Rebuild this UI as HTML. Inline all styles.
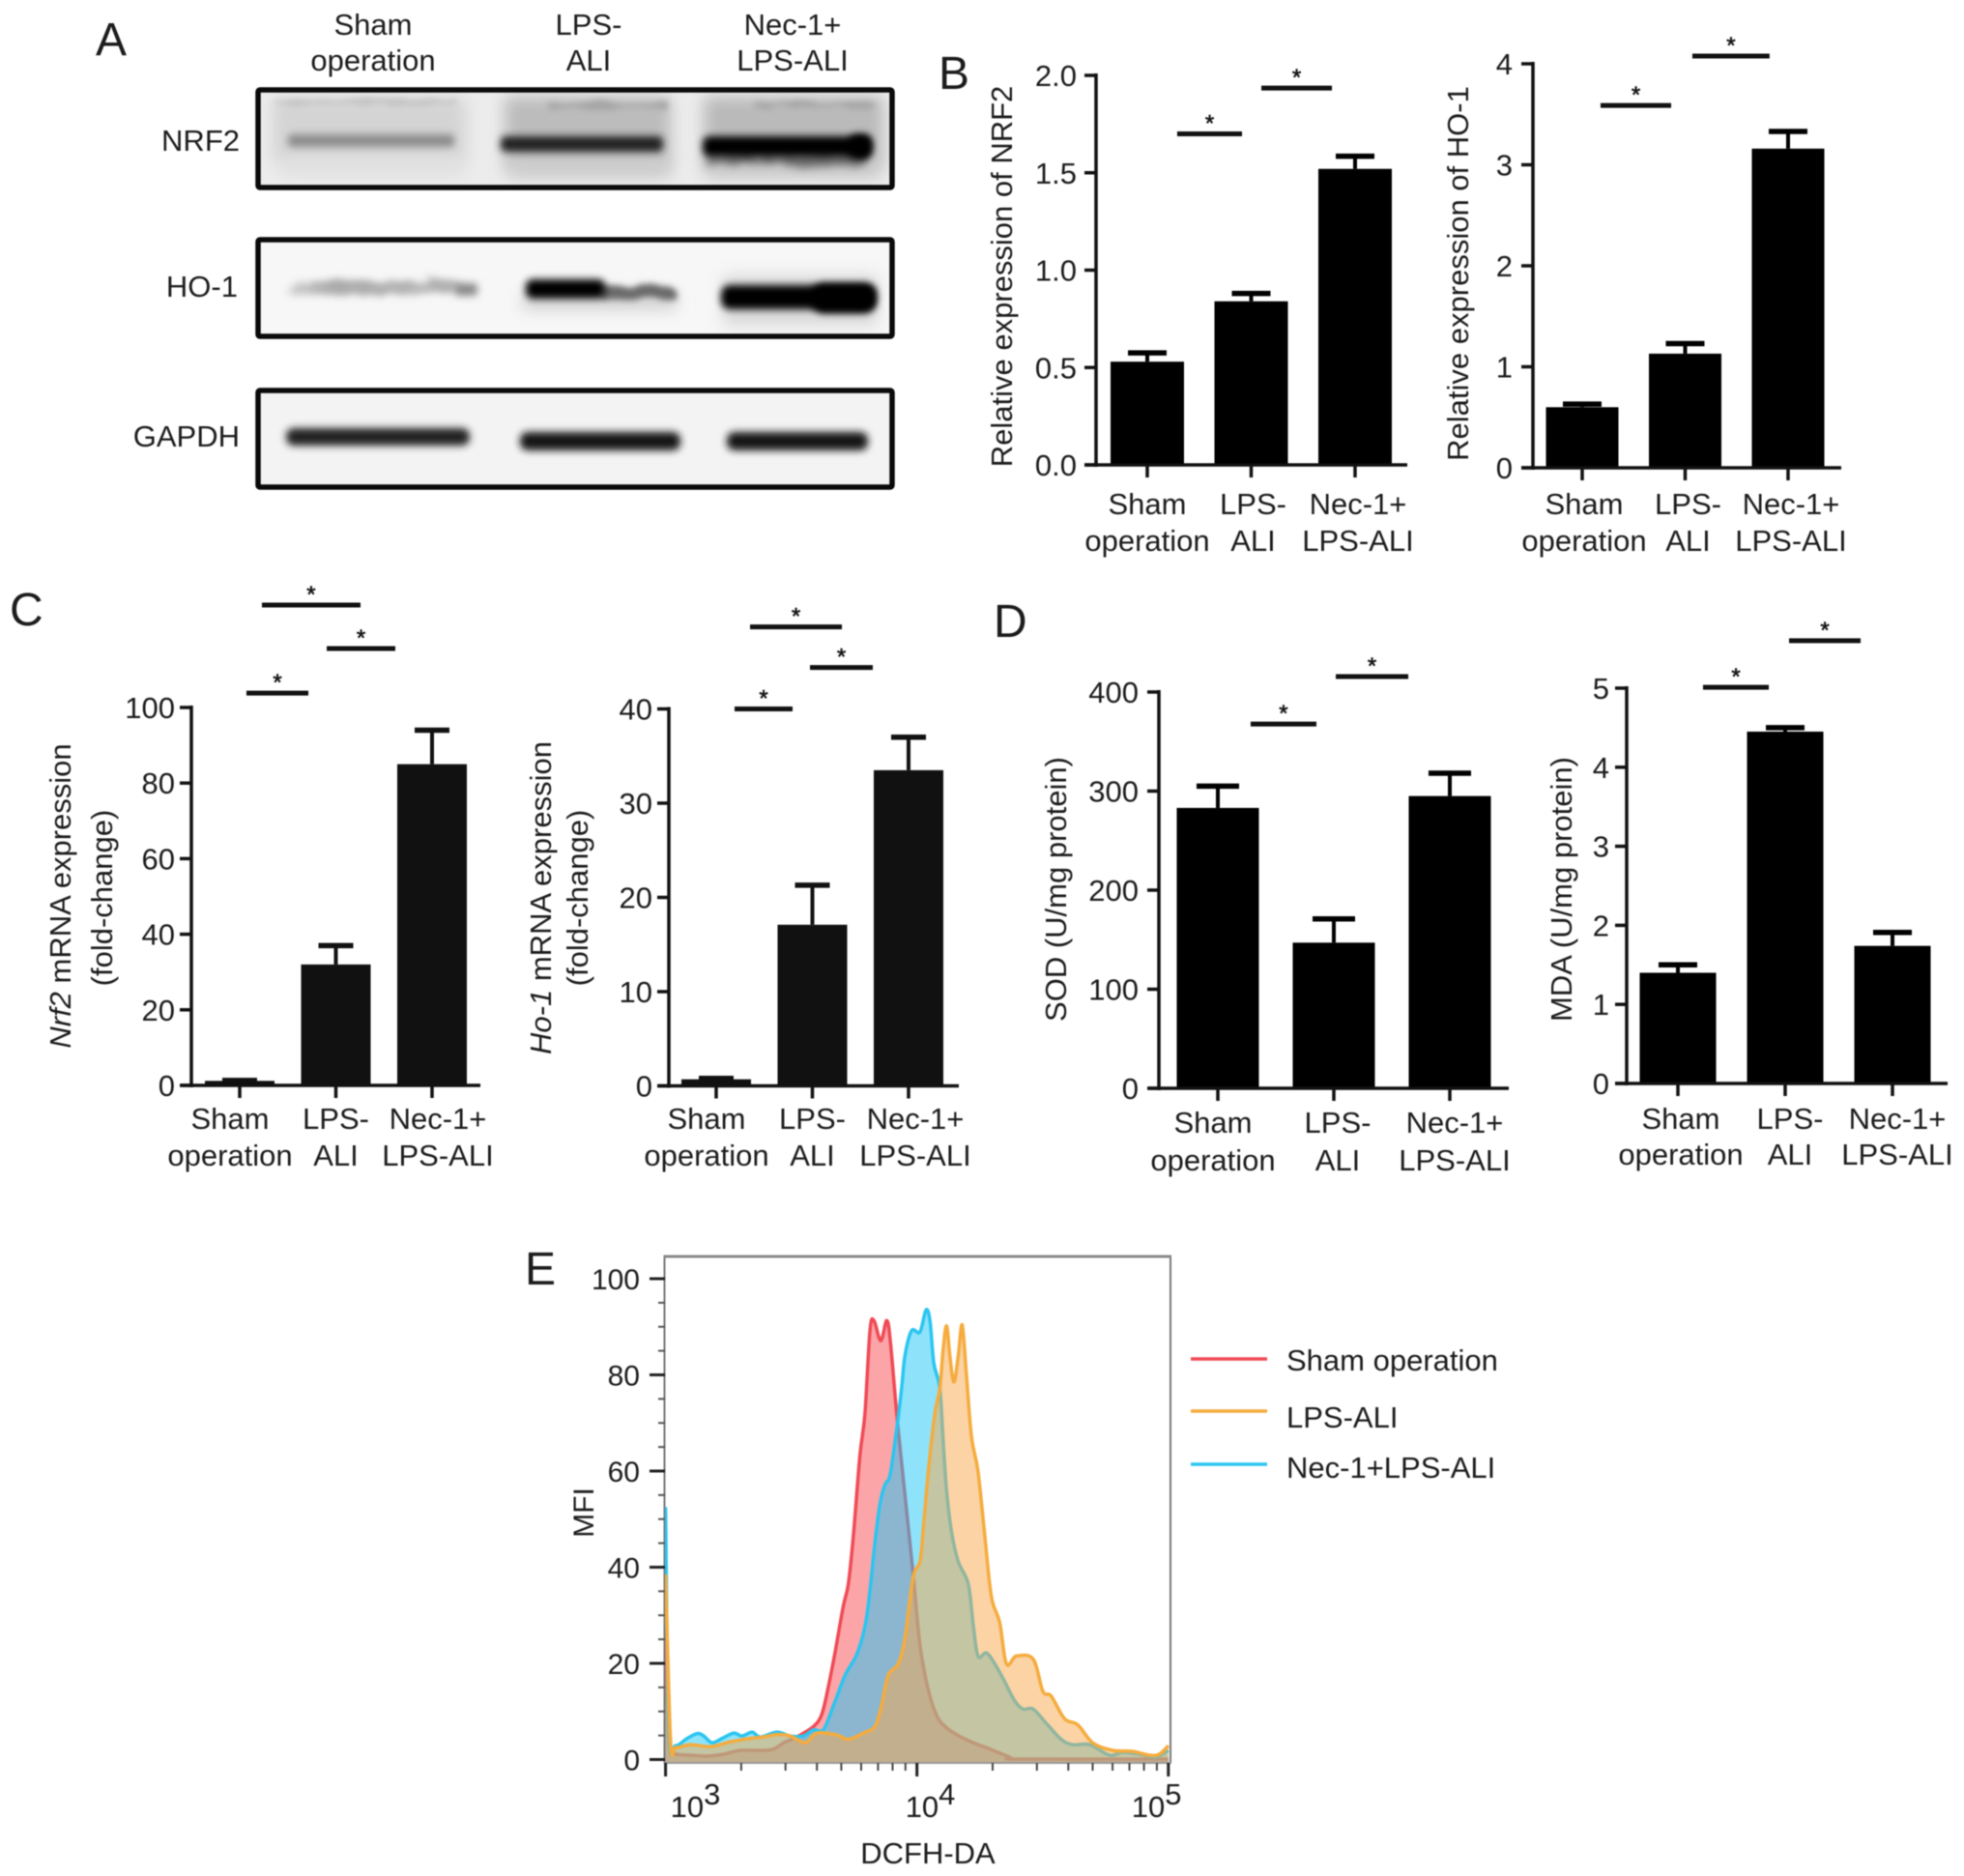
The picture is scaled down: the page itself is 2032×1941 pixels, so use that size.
<!DOCTYPE html>
<html lang="en">
<head>
<meta charset="utf-8">
<title>Western blot, mRNA, SOD/MDA and flow cytometry figure</title>
<style>
html,body{margin:0;padding:0;background:#fff;}
svg{display:block;font-family:"Liberation Sans",Arial,sans-serif;filter:blur(0.6px);}
text{fill:#1c1c1c;}
</style>
</head>
<body>
<svg id="figure" xmlns="http://www.w3.org/2000/svg" width="2032" height="1941" viewBox="0 0 2032 1941">
<defs>
<filter id="b8" x="-30%" y="-100%" width="160%" height="300%"><feGaussianBlur stdDeviation="8"/></filter>
<filter id="b3" x="-30%" y="-150%" width="160%" height="400%"><feGaussianBlur stdDeviation="4"/></filter>
<filter id="m3" x="-20%" y="-200%" width="140%" height="500%">
  <feTurbulence type="fractalNoise" baseFrequency="0.035 0.09" numOctaves="2" seed="4" result="n"/>
  <feDisplacementMap in="SourceGraphic" in2="n" scale="11" xChannelSelector="R" yChannelSelector="G"/>
  <feGaussianBlur stdDeviation="3.2"/>
</filter>
<filter id="m5" x="-20%" y="-200%" width="140%" height="500%">
  <feTurbulence type="fractalNoise" baseFrequency="0.05 0.12" numOctaves="2" seed="9" result="n"/>
  <feDisplacementMap in="SourceGraphic" in2="n" scale="16" xChannelSelector="R" yChannelSelector="G"/>
  <feGaussianBlur stdDeviation="4.5"/>
</filter>
<clipPath id="clip1"><rect x="267" y="93" width="656" height="101"/></clipPath>
<clipPath id="clip2"><rect x="267" y="248" width="656" height="100"/></clipPath>
<clipPath id="clip3"><rect x="267" y="404" width="656" height="100"/></clipPath>
<clipPath id="clipE"><rect x="688" y="1300" width="523" height="524"/></clipPath>
</defs>
<rect x="0" y="0" width="2032" height="1941" fill="#fff"/>

<g font-size="48">
<text x="99" y="57">A</text>
<text x="971" y="92">B</text>
<text x="10" y="647">C</text>
<text x="1028" y="659">D</text>
<text x="543" y="1329">E</text>
</g>

<g font-size="31" text-anchor="middle">
<text x="386" y="36">Sham</text>
<text x="386" y="73">operation</text>
<text x="609" y="36">LPS-</text>
<text x="609" y="73">ALI</text>
<text x="820" y="36">Nec-1+</text>
<text x="820" y="73">LPS-ALI</text>
</g>
<g font-size="31" text-anchor="end">
<text x="248" y="156">NRF2</text>
<text x="246" y="307">HO-1</text>
<text x="248" y="462">GAPDH</text>
</g>

<g>
<g clip-path="url(#clip1)">
<rect x="267" y="93" width="656" height="101" fill="#ececec"/>
<rect x="282" y="102" width="200" height="66" fill="#d4d4d4" filter="url(#b8)"/>
<rect x="522" y="100" width="172" height="74" fill="#bcbcbc" filter="url(#b8)"/>
<rect x="728" y="100" width="186" height="74" fill="#bababa" filter="url(#b8)"/>
<rect x="290" y="164" width="190" height="18" fill="#e0e0e0" filter="url(#b8)"/>
<rect x="525" y="164" width="168" height="20" fill="#cdcdcd" filter="url(#b8)"/>
<rect x="730" y="164" width="180" height="20" fill="#cbcbcb" filter="url(#b8)"/>
<rect x="285" y="104" width="190" height="5" fill="#c2c2c2" filter="url(#m3)"/>
<rect x="565" y="106" width="125" height="6" fill="#a4a4a4" filter="url(#m3)"/>
<rect x="780" y="106" width="125" height="5" fill="#a4a4a4" filter="url(#m3)"/>
<rect x="298" y="139" width="172" height="13" rx="4" fill="#8c8c8c" filter="url(#b3)"/>
<rect x="518" y="141" width="168" height="16" rx="5" fill="#222" filter="url(#b3)"/>
<rect x="732" y="158" width="165" height="13" fill="#666" filter="url(#m5)"/>
<rect x="727" y="141" width="174" height="21" rx="7" fill="#000" filter="url(#b3)"/>
<rect x="878" y="139" width="24" height="25" rx="9" fill="#000" filter="url(#b3)"/>
</g>
<rect x="267" y="93" width="656" height="101" rx="2" fill="none" stroke="#0a0a0a" stroke-width="5.5"/>
</g>

<g>
<g clip-path="url(#clip2)">
<rect x="267" y="248" width="656" height="100" fill="#f7f7f7"/>
<rect x="300" y="293" width="170" height="11" rx="4" fill="#bdbdbd" filter="url(#m5)"/>
<rect x="320" y="292" width="150" height="10" fill="#a8a8a8" filter="url(#m5)"/>
<rect x="470" y="293" width="24" height="13" rx="4" fill="#8a8a8a" filter="url(#b3)"/>
<rect x="540" y="304" width="160" height="16" fill="#cfcfcf" filter="url(#b8)"/>
<rect x="620" y="297" width="78" height="13" rx="4" fill="#6a6a6a" filter="url(#m3)"/>
<rect x="544" y="289" width="82" height="20" rx="7" fill="#000" filter="url(#b3)"/>
<rect x="748" y="285" width="160" height="52" fill="#c4c4c4" opacity=".6" filter="url(#b8)"/>
<rect x="746" y="295" width="160" height="25" rx="9" fill="#000" filter="url(#b3)"/>
<rect x="840" y="293" width="66" height="31" rx="12" fill="#000" filter="url(#b3)"/>
</g>
<rect x="267" y="248" width="656" height="100" rx="2" fill="none" stroke="#0a0a0a" stroke-width="5.5"/>
</g>

<g>
<g clip-path="url(#clip3)">
<rect x="267" y="404" width="656" height="100" fill="#f3f3f3"/>
<rect x="296" y="443" width="190" height="18" rx="8" fill="#242424" filter="url(#b3)"/>
<rect x="538" y="447" width="166" height="19" rx="8" fill="#121212" filter="url(#b3)"/>
<rect x="752" y="447" width="146" height="19" rx="8" fill="#121212" filter="url(#b3)"/>
</g>
<rect x="267" y="404" width="656" height="100" rx="2" fill="none" stroke="#0a0a0a" stroke-width="5.5"/>
</g>

<g font-size="31" text-anchor="middle">
<text transform="translate(1047,286) rotate(-90)">Relative expression of NRF2</text>
<text transform="translate(1519,283) rotate(-90)">Relative expression of HO-1</text>
<text transform="translate(73,927) rotate(-90)"><tspan font-style="italic">Nrf2</tspan> mRNA expression</text>
<text transform="translate(116,929) rotate(-90)">(fold-change)</text>
<text transform="translate(570,929) rotate(-90)"><tspan font-style="italic">Ho-1</tspan> mRNA expression</text>
<text transform="translate(608,929) rotate(-90)">(fold-change)</text>
<text transform="translate(1103,920) rotate(-90)">SOD (U/mg protein)</text>
<text transform="translate(1626,920) rotate(-90)">MDA (U/mg protein)</text>
<text transform="translate(614,1565) rotate(-90)" font-size="30">MFI</text>
<text x="960" y="1928">DCFH-DA</text>
</g>

<g id="bar-charts"></g>
<g id="flow-chart"></g>

<g font-size="31">
<line x1="1232" x2="1311" y1="1406" y2="1406" stroke="#f04a55" stroke-width="3.5"/>
<text x="1331" y="1418">Sham operation</text>
<line x1="1232" x2="1311" y1="1460" y2="1460" stroke="#f5ac3e" stroke-width="3.5"/>
<text x="1331" y="1477">LPS-ALI</text>
<line x1="1232" x2="1311" y1="1515" y2="1515" stroke="#2bc5f0" stroke-width="3.5"/>
<text x="1331" y="1529">Nec-1+LPS-ALI</text>
</g>
</svg>

<script>
// ---------- bar chart data ----------
const categoryLines = [["Sham", "operation"], ["LPS-", "ALI"], ["Nec-1+", "LPS-ALI"]];

const nrf2ProteinValues = [0.53, 0.84, 1.52];
const nrf2ProteinErrors = [0.575, 0.88, 1.585];
const nrf2ProteinTicks = [0, 0.5, 1, 1.5, 2];
const nrf2ProteinTickLabels = ["0.0", "0.5", "1.0", "1.5", "2.0"];
const nrf2ProteinSig = [[0.288, 0.912, 1.70], [1.098, 1.777, 1.935]];

const ho1ProteinValues = [0.6, 1.13, 3.16];
const ho1ProteinErrors = [0.63, 1.23, 3.33];
const ho1ProteinTicks = [0, 1, 2, 3, 4];
const ho1ProteinTickLabels = ["0", "1", "2", "3", "4"];
const ho1ProteinSig = [[0.178, 0.864, 3.587], [1.07, 1.82, 4.077]];

const nrf2MrnaValues = [1.2, 32, 85];
const nrf2MrnaErrors = [1.3, 37, 94];
const nrf2MrnaTicks = [0, 20, 40, 60, 80, 100];
const nrf2MrnaTickLabels = ["0", "20", "40", "60", "80", "100"];
const nrf2MrnaSig = [[0.231, 1.256, 127.1], [0.905, 1.618, 115.6], [0.07, 0.714, 103.8]];

const ho1MrnaValues = [0.7, 17.1, 33.5];
const ho1MrnaErrors = [0.8, 21.3, 37];
const ho1MrnaTicks = [0, 10, 20, 30, 40];
const ho1MrnaTickLabels = ["0", "10", "20", "30", "40"];
const ho1MrnaSig = [[0.352, 1.307, 48.7], [0.975, 1.628, 44.4], [0.191, 0.794, 40]];

const sodValues = [283, 147, 295];
const sodErrors = [305, 171, 318];
const sodTicks = [0, 100, 200, 300, 400];
const sodTickLabels = ["0", "100", "200", "300", "400"];
const sodSig = [[0.283, 0.85, 367.7], [1.017, 1.642, 415.6]];

const mdaValues = [1.4, 4.45, 1.74];
const mdaErrors = [1.5, 4.5, 1.91];
const mdaTicks = [0, 1, 2, 3, 4, 5];
const mdaTickLabels = ["0", "1", "2", "3", "4", "5"];
const mdaSig = [[0.234, 0.847, 5.01], [1.036, 1.703, 5.6]];

// ---------- flow cytometry data (log10 intensity, percent of max) ----------
const shamLog = [3.000,3.013,3.033,3.099,3.165,3.231,3.298,3.417,3.470,3.522,3.589,3.622,3.648,3.675,3.707,3.727,3.747,3.773,3.793,3.813,3.829,3.856,3.880,3.895,3.922,3.952,3.985,4.012,4.045,4.078,4.111,4.157,4.224,4.290,4.369,4.409,5.000];
const shamMfi = [25,3.9,1.3,0.9,0.7,1.1,1.9,2.0,3.5,4.7,6.9,9.5,15.2,22.5,31.9,36.5,46.5,63.2,71.9,89.2,91.3,87.1,91.3,86.5,70.5,55.2,38.5,23.9,14.5,9.2,6.9,5.2,3.5,2.2,0.5,0.1,0.1];

const necLog = [3.000,3.013,3.040,3.086,3.126,3.152,3.185,3.225,3.271,3.304,3.344,3.377,3.443,3.496,3.549,3.589,3.628,3.668,3.714,3.761,3.794,3.813,3.833,3.853,3.873,3.893,3.919,3.939,3.952,3.979,4.012,4.036,4.052,4.067,4.091,4.104,4.118,4.138,4.164,4.204,4.224,4.243,4.276,4.310,4.349,4.389,4.422,4.462,4.515,4.574,4.620,4.687,4.766,4.819,4.885,4.951,5.000];
const necMfi = [52.5,5.2,2.9,4.4,5.4,4.9,3.5,4.4,5.5,4.9,5.7,4.7,5.7,4.9,4.9,6.2,6.2,11.2,17.5,21.9,27.9,35.2,45.2,53.2,57.2,59.2,68.5,77.2,83.9,89.2,88.9,93.5,91.2,82.5,77.2,66.5,55.9,47.2,41.2,36.5,27.9,21.5,22.2,19.9,16.2,12.2,10.5,10.5,7.5,4.2,3.1,3.1,0.9,1.5,1.1,0.5,1.9];

const lpsLog = [3.000,3.020,3.040,3.099,3.179,3.258,3.337,3.390,3.443,3.496,3.556,3.602,3.681,3.727,3.787,3.833,3.859,3.886,3.925,3.952,3.985,4.012,4.025,4.045,4.071,4.091,4.104,4.118,4.131,4.147,4.164,4.180,4.197,4.217,4.243,4.270,4.296,4.329,4.356,4.395,4.462,4.501,4.534,4.587,4.640,4.699,4.779,4.858,4.924,4.964,5.000];
const lpsMfi = [38.5,3.9,2.5,3.1,2.7,3.7,4.4,4.7,5.2,4.9,3.5,5.5,5.1,4.2,5.5,6.9,11.2,17.5,19.9,25.2,37.9,41.2,47.9,59.9,71.9,77.2,85.2,90.2,83.9,78.5,83.9,90.4,79.9,67.2,59.9,46.5,33.9,28.5,19.9,21.5,20.9,14.2,13.2,8.5,7.2,3.5,1.9,1.7,0.9,1.1,2.9];

const mfiTicks = [0, 20, 40, 60, 80, 100];
const mfiTickLabels = ["0", "20", "40", "60", "80", "100"];
const mfiMinorTicks = [5, 10, 15, 25, 30, 35, 45, 50, 55, 65, 70, 75, 85, 90, 95];
const decadeExponents = [3, 4, 5];
const minorMultipliers = [2, 3, 4, 5, 6, 7, 8, 9];

// ---------- helpers ----------
const NS = "http://www.w3.org/2000/svg";
function make(parent, tag, props) {
  const node = document.createElementNS(NS, tag);
  for (const k in props) node.setAttribute(k, props[k]);
  parent.appendChild(node);
  return node;
}

// layout of each chart: frame geometry only, the marks come from the arrays
const barCharts = [
  {id:"nrf2-protein", values:nrf2ProteinValues, errors:nrf2ProteinErrors, ticks:nrf2ProteinTicks, labels:nrf2ProteinTickLabels, sig:nrf2ProteinSig,
   max:2, y0:481, yTop:78, axisX:1134, xL:1122, xR:1456, x0:1187, step:107.5, half:38, cap:20, fill:"#000", labelRight:1114, labelDx:[0,2,3], rowY:[532,570]},
  {id:"ho1-protein", values:ho1ProteinValues, errors:ho1ProteinErrors, ticks:ho1ProteinTicks, labels:ho1ProteinTickLabels, sig:ho1ProteinSig,
   max:4, y0:484, yTop:66, axisX:1586, xL:1574, xR:1905, x0:1637, step:106.5, half:37.5, cap:20, fill:"#000", labelRight:1565, labelDx:[2,3,3], rowY:[532,570]},
  {id:"nrf2-mrna", values:nrf2MrnaValues, errors:nrf2MrnaErrors, ticks:nrf2MrnaTicks, labels:nrf2MrnaTickLabels, sig:nrf2MrnaSig,
   max:100, y0:1123, yTop:732, axisX:198, xL:187, xR:497, x0:248, step:99.5, half:36, cap:18, fill:"#111", labelRight:181, labelDx:[-10,0,6], rowY:[1168,1206]},
  {id:"ho1-mrna", values:ho1MrnaValues, errors:ho1MrnaErrors, ticks:ho1MrnaTicks, labels:ho1MrnaTickLabels, sig:ho1MrnaSig,
   max:40, y0:1123.5, yTop:733.5, axisX:692, xL:681, xR:992, x0:741, step:99.5, half:36, cap:18, fill:"#111", labelRight:675, labelDx:[-10,0,7], rowY:[1168,1206]},
  {id:"sod", values:sodValues, errors:sodErrors, ticks:sodTicks, labels:sodTickLabels, sig:sodSig,
   max:400, y0:1126, yTop:716, axisX:1199, xL:1188, xR:1561, x0:1260, step:120, half:42.5, cap:22, fill:"#000", labelRight:1178, labelDx:[-5,4,5], rowY:[1172,1211]},
  {id:"mda", values:mdaValues, errors:mdaErrors, ticks:mdaTicks, labels:mdaTickLabels, sig:mdaSig,
   max:5, y0:1121, yTop:712, axisX:1683, xL:1671, xR:2015, x0:1736, step:111, half:39.5, cap:20, fill:"#000", labelRight:1665, labelDx:[3,5,5], rowY:[1168,1205]}
];

function drawBarChart(cfg, root) {
  const yScale = v => cfg.y0 - (v / cfg.max) * (cfg.y0 - cfg.yTop);
  const xScale = c => cfg.x0 + c * cfg.step;
  const g = make(root, "g", {});
  
  

  cfg.values.forEach((v, i) => {
    const bar = make(g, "rect", {x:xScale(i)-cfg.half, y:yScale(v), width:cfg.half*2, height:cfg.y0-yScale(v), fill:cfg.fill});
    
    
    const stem = make(g, "line", {x1:xScale(i), x2:xScale(i), y1:yScale(v), y2:yScale(cfg.errors[i]), stroke:cfg.fill, "stroke-width":4});
    
    
    const cap = make(g, "line", {x1:xScale(i)-cfg.cap, x2:xScale(i)+cfg.cap, y1:yScale(cfg.errors[i]), y2:yScale(cfg.errors[i]), stroke:cfg.fill, "stroke-width":5.5});
    
    
  });

  const yAxis = make(g, "line", {x1:cfg.axisX, x2:cfg.axisX, y1:yScale(cfg.max)-2, y2:cfg.y0+2, stroke:"#111", "stroke-width":3.5});
  
  
  const xAxis = make(g, "line", {x1:cfg.xL, x2:cfg.xR, y1:cfg.y0, y2:cfg.y0, stroke:"#111", "stroke-width":3.5});
  
  

  cfg.ticks.forEach((t, i) => {
    const tick = make(g, "line", {x1:cfg.axisX-12, x2:cfg.axisX, y1:yScale(t), y2:yScale(t), stroke:"#111", "stroke-width":3.5});
    
    
    const label = make(g, "text", {x:cfg.labelRight, y:yScale(t)+11, "text-anchor":"end", "font-size":31});
    label.textContent = cfg.labels[i];
    
    
  });

  categoryLines.forEach((lines, i) => {
    const tick = make(g, "line", {x1:xScale(i), x2:xScale(i), y1:cfg.y0, y2:cfg.y0+13, stroke:"#111", "stroke-width":3.5});
    
    
    lines.forEach((line, j) => {
      const label = make(g, "text", {x:xScale(i)+cfg.labelDx[i], y:cfg.rowY[j], "text-anchor":"middle", "font-size":31});
      label.textContent = line;
      
      
    });
  });

  cfg.sig.forEach((s, i) => {
    const sigLine = make(g, "line", {x1:xScale(s[0]), x2:xScale(s[1]), y1:yScale(s[2]), y2:yScale(s[2]), stroke:"#111", "stroke-width":5});
    
    
    const star = make(g, "text", {x:(xScale(s[0])+xScale(s[1]))/2, y:yScale(s[2])-3, "text-anchor":"middle", "font-size":24, stroke:"#111", "stroke-width":0.6});
    star.textContent = "*";
    
    
  });
}

const barRoot = document.getElementById("bar-charts");
barCharts.forEach(cfg => drawBarChart(cfg, barRoot));

// ---------- flow histogram ----------
const flowX = lg => 688.6 + (lg - 3) * 260.1;
const flowY = v => 1820.5 - v * 4.975;
const flowRoot = document.getElementById("flow-chart");

// smooth curve through the data points
function smoothPath(xs, ys) {
  let d = "M" + xs[0].toFixed(1) + " " + ys[0].toFixed(1);
  for (let i = 0; i < xs.length - 1; i++) {
    const a = Math.max(i - 1, 0), b = Math.min(i + 2, xs.length - 1);
    const c1x = xs[i] + (xs[i + 1] - xs[a]) / 6;
    const c1y = ys[i] + (ys[i + 1] - ys[a]) / 6;
    const c2x = xs[i + 1] - (xs[b] - xs[i]) / 6;
    const c2y = ys[i + 1] - (ys[b] - ys[i]) / 6;
    d += " C" + c1x.toFixed(1) + " " + c1y.toFixed(1) + " " + c2x.toFixed(1) + " " + c2y.toFixed(1) + " " + xs[i + 1].toFixed(1) + " " + ys[i + 1].toFixed(1);
  }
  return d;
}

const flowFrame = make(flowRoot, "rect", {x:687.5, y:1300, width:523.5, height:524, fill:"#fff", stroke:"#777", "stroke-width":2});



const flowSeries = [
  {name:"sham", logs:shamLog, mfi:shamMfi, line:"#f04a55", fill:"rgba(247,75,83,.5)"},
  {name:"nec", logs:necLog, mfi:necMfi, line:"#2bc5f0", fill:"rgba(30,200,247,.5)"},
  {name:"lps", logs:lpsLog, mfi:lpsMfi, line:"#f5ac3e", fill:"rgba(247,167,75,.5)"}
];
const flowClip = make(flowRoot, "g", {"clip-path":"url(#clipE)"});


flowSeries.forEach(s => {
  const xs = s.logs.map(flowX);
  const ys = s.mfi.map(flowY);
  const curve = smoothPath(xs, ys);
  const area = make(flowClip, "path", {d:curve + " L" + xs[xs.length-1].toFixed(1) + " " + flowY(-0.7) + " L" + xs[0].toFixed(1) + " " + flowY(-0.7) + " Z", fill:s.fill});
  
  
  const line = make(flowClip, "path", {d:curve, fill:"none", stroke:s.line, "stroke-width":3.5, "stroke-linejoin":"round"});
  
  
});

const flowTop = make(flowRoot, "line", {x1:686.5, x2:1212, y1:1300, y2:1300, stroke:"#888", "stroke-width":3});


const flowBase = make(flowRoot, "line", {x1:686.5, x2:1212, y1:1824, y2:1824, stroke:"#999", "stroke-width":2});



mfiTicks.forEach((t, i) => {
  const tick = make(flowRoot, "line", {x1:672, x2:688, y1:flowY(t), y2:flowY(t), stroke:"#222", "stroke-width":3});
  
  
  const label = make(flowRoot, "text", {x:662, y:flowY(t)+11, "text-anchor":"end", "font-size":30});
  label.textContent = mfiTickLabels[i];
  
  
});
mfiMinorTicks.forEach((t, i) => {
  const tick = make(flowRoot, "line", {x1:681, x2:688, y1:flowY(t), y2:flowY(t), stroke:"#555", "stroke-width":2});
  
  
});
decadeExponents.forEach((e, i) => {
  const tick = make(flowRoot, "line", {x1:flowX(e), x2:flowX(e), y1:1824, y2:1838, stroke:"#222", "stroke-width":3});
  
  
  const startDx = [5, -12, -38];
  const label = make(flowRoot, "text", {x:flowX(e)+startDx[i], y:1880, "font-size":31});
  
  
  const base = make(label, "tspan", {});
  base.textContent = "10";
  const exp = make(label, "tspan", {dy:-13, "font-size":31});
  exp.textContent = String(e);
  if (e < 5) {
    minorMultipliers.forEach(m => {
      const minor = make(flowRoot, "line", {x1:flowX(e+Math.log10(m)), x2:flowX(e+Math.log10(m)), y1:1824, y2:1832, stroke:"#444", "stroke-width":2});
      
      
    });
  }
});
</script>
</body>
</html>
